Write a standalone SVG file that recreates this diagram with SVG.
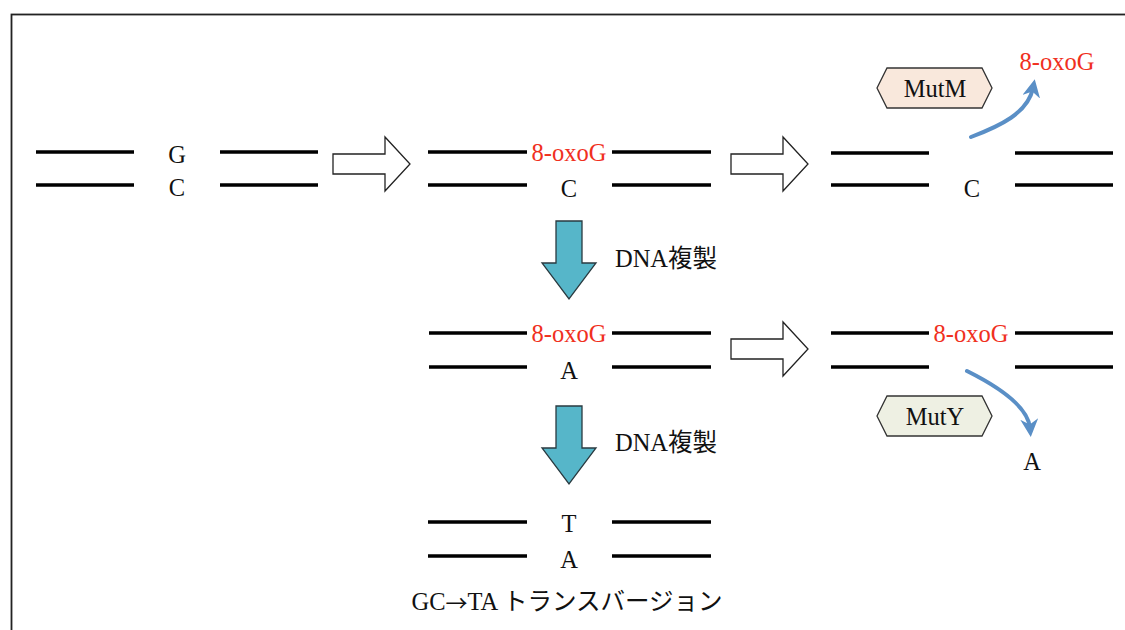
<svg xmlns="http://www.w3.org/2000/svg" width="1125" height="630" viewBox="0 0 1125 630">
  <style>
    text { font-family: "Liberation Serif", "Noto Sans CJK JP", serif; font-size: 24.5px; fill: #111; text-anchor: middle; dominant-baseline: central; }
    .ox { fill: #f0301e; }
    .arrowglyph { font-family: "Noto Sans CJK JP", sans-serif; font-size: 22px; }
    .strand { stroke: #000; stroke-width: 3.5; fill: none; }
    .hollow { fill: #fff; stroke: #222; stroke-width: 1.3; }
    .down { fill: #56b6c9; stroke: #2a3a40; stroke-width: 1.3; }
    .enz { stroke: #333; stroke-width: 1.3; }
    .curve { fill: none; stroke: #5a8fc6; stroke-width: 4; stroke-linecap: round; }
  </style>
  <defs>
    <marker id="head" viewBox="0 0 10 10" refX="5" refY="5" markerWidth="4.5" markerHeight="4.5" orient="auto" markerUnits="strokeWidth">
      <path d="M0,0 L10,5 L0,10 L3,5 Z" fill="#5a8fc6"/>
    </marker>
    <path id="hollowArrow" d="M0,17 H52 V0 L77,27 L52,54 V37 H0 Z"/>
    <path id="downArrow" d="M14,0 H40 V42 H54 L27,78 L0,42 H14 Z"/>
  </defs>

  <rect width="1125" height="630" fill="#fff"/>
  <rect x="11.5" y="14.5" width="1130" height="630" fill="none" stroke="#222" stroke-width="1.8"/>

  <!-- original G:C pair -->
  <g id="pair-gc">
    <path class="strand" d="M36,152 H134 M220,152 H318 M36,185 H134 M220,185 H318"/>
    <text x="177" y="154">G</text>
    <text x="177" y="187">C</text>
  </g>

  <!-- oxidised G opposite C -->
  <g id="pair-oxog-c">
    <path class="strand" d="M428,152 H527 M612,152 H711 M428,185 H527 M612,185 H711"/>
    <text class="ox" x="569" y="152">8-oxoG</text>
    <text x="569" y="188">C</text>
  </g>

  <!-- MutM excision -->
  <g id="pair-excised">
    <path class="strand" d="M831,153 H929 M1015,153 H1113 M831,185 H929 M1015,185 H1113"/>
    <text x="972" y="188">C</text>
    <text class="ox" x="1057" y="61">8-oxoG</text>
  </g>

  <g id="mutm">
    <path class="enz" fill="#f9e8dc" d="M877,88 L887,68 H982 L992,88 L982,108 H887 Z"/>
    <text x="935" y="88">MutM</text>
  </g>

  <!-- oxidised G mispaired with A -->
  <g id="pair-oxog-a">
    <path class="strand" d="M429,333 H527 M612,333 H711 M429,367 H527 M612,367 H711"/>
    <text class="ox" x="569" y="333">8-oxoG</text>
    <text x="569" y="370">A</text>
  </g>

  <!-- MutY removes A -->
  <g id="pair-a-removed">
    <path class="strand" d="M831,333 H929 M1015,333 H1113 M831,367 H929 M1015,367 H1113"/>
    <text class="ox" x="971" y="333">8-oxoG</text>
    <text x="1032" y="461">A</text>
  </g>

  <g id="muty">
    <path class="enz" fill="#eef0e3" d="M877,416 L887,396 H982 L992,416 L982,436 H887 Z"/>
    <text x="935" y="416">MutY</text>
  </g>

  <!-- transversion product -->
  <g id="pair-ta">
    <path class="strand" d="M428,522 H527 M612,522 H711 M428,556 H527 M612,556 H711"/>
    <text x="569" y="523">T</text>
    <text x="569" y="559">A</text>
    <text x="567" y="601">GC<tspan class="arrowglyph">→</tspan>TA トランスバージョン</text>
  </g>

  <g id="connectors">
    <use href="#hollowArrow" class="hollow" x="333" y="137"/>
    <use href="#hollowArrow" class="hollow" x="731" y="137"/>
    <use href="#hollowArrow" class="hollow" x="731" y="322"/>
    <use href="#downArrow" class="down" x="542" y="221"/>
    <use href="#downArrow" class="down" x="542" y="406"/>
    <text x="666" y="258">DNA複製</text>
    <text x="666" y="442">DNA複製</text>
    <path class="curve" d="M971,137 C1000,126 1028,113 1033,88" marker-end="url(#head)"/>
    <path class="curve" d="M967,371 C995,385 1028,405 1030,428" marker-end="url(#head)"/>
  </g>
</svg>
